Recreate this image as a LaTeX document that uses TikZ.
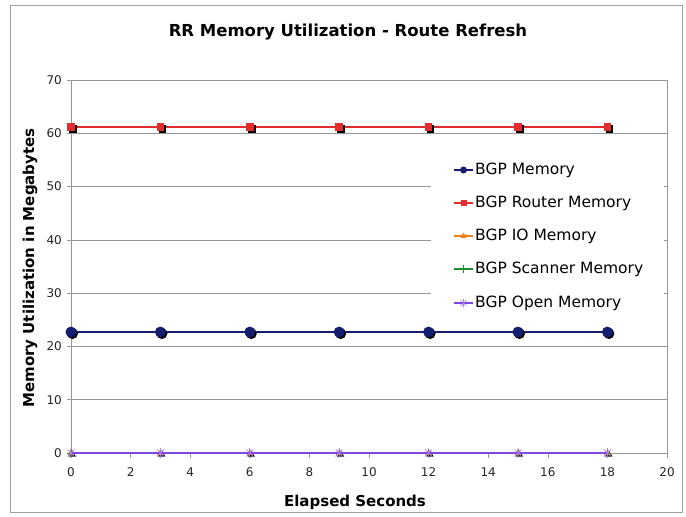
\documentclass[tikz,border=0pt]{standalone}
\usepackage{fontspec}
\setmainfont{DejaVu Sans}
\usetikzlibrary{shapes.geometric}
\definecolor{navy}{RGB}{20,30,110}
\definecolor{rred}{RGB}{225,45,45}
\definecolor{iorange}{RGB}{240,130,30}
\definecolor{sgreen}{RGB}{30,140,40}
\definecolor{opurple}{RGB}{130,70,230}
\definecolor{gridgray}{RGB}{150,150,150}
\definecolor{framegray}{RGB}{160,160,160}
\tikzset{
  ticklabel/.style={font=\fontsize{12}{14}\selectfont, text=black!85},
  legendtext/.style={font=\fontsize{15.5}{17}\selectfont, anchor=west, inner sep=0pt},
  axistitle/.style={font=\bfseries\fontsize{15}{17}\selectfont},
  dotmark/.style={circle, fill=navy, minimum size=11pt, inner sep=0pt},
  dotshadow/.style={circle, fill=black, minimum size=11pt, inner sep=0pt},
  sqmark/.style={rectangle, fill=rred, minimum size=7.5pt, inner sep=0pt},
  sqshadow/.style={rectangle, fill=black, minimum size=7.5pt, inner sep=0pt},
  trimark/.style={regular polygon, regular polygon sides=3, fill=iorange, minimum size=8pt, inner sep=0pt},
  trishadow/.style={regular polygon, regular polygon sides=3, fill=black, minimum size=8pt, inner sep=0pt},
}
% horizontal scale: 29.8 px per second, vertical: 5.33 px per MB
\newcommand{\px}[1]{71+29.8*#1}
\newcommand{\py}[1]{453-5.3286*#1}
\begin{document}
\begin{tikzpicture}[x=1pt,y=-1pt]
  \useasboundingbox (0,0) rectangle (686,517);
  \fill[white] (0,0) rectangle (686,517);
  \draw[framegray, line width=0.8pt] (10,5) rectangle (682,512);

  % title
  \node[font=\bfseries\fontsize{16.5}{19}\selectfont] (title) at (348,32) {RR Memory Utilization - Route Refresh};

  % grid lines
  \foreach \v in {10,20,...,70} {
    \draw[gridgray, line width=0.6pt] (71,{\py{\v}}) -- ({\px{20}},{\py{\v}});
  }
  % plot frame
  \draw[gridgray, line width=0.6pt] (71,{\py{70}}) -- ({\px{20}},{\py{70}}) -- ({\px{20}},453);
  \draw[gridgray, line width=0.8pt] (71,{\py{70}}) -- (71,453) -- ({\px{20}},453);

  % y ticks and labels
  \foreach \v in {0,10,...,70} {
    \draw[gridgray, line width=0.6pt] (67,{\py{\v}}) -- (71,{\py{\v}});
    \node[ticklabel, anchor=east, inner sep=1pt] (ylab\v) at (63,{\py{\v}}) {\v};
  }
  % x ticks and labels
  \foreach \v in {0,2,...,20} {
    \draw[gridgray, line width=0.6pt] ({\px{\v}},453) -- ({\px{\v}},458);
    \node[ticklabel, anchor=center, inner sep=1pt] (xlab\v) at ({\px{\v}},472) {\v};
  }

  % axis titles
  \node[axistitle, rotate=90] (ytitle) at (30,268) {Memory Utilization in Megabytes};
  \node[axistitle] (xtitle) at (355,502) {Elapsed Seconds};

  % BGP Router Memory
  \draw[rred, line width=1.6pt] ({\px{0}},{\py{61.2}}) -- ({\px{18}},{\py{61.2}});
  \foreach \t in {0,3,...,18} {
    \node[sqshadow] at ({\px{\t}+2},{\py{61.2}+2}) {};
    \node[sqmark] at ({\px{\t}},{\py{61.2}}) {};
  }

  % legend background hides the grid behind it
  \fill[white] (431,148) rectangle (664,322);

  % BGP Memory
  \draw[navy, line width=2.6pt] ({\px{0}},{\py{22.7}}) -- ({\px{18}},{\py{22.7}});
  \foreach \t in {0,3,...,18} {
    \node[dotshadow] at ({\px{\t}+1.5},{\py{22.7}+1.5}) {};
    \node[dotmark] at ({\px{\t}},{\py{22.7}}) {};
  }

  % IO, Scanner and Open memory, all at zero
  \draw[iorange, line width=1.4pt] ({\px{0}},453) -- ({\px{18}},453);
  \draw[sgreen, line width=1.2pt] ({\px{0}},453) -- ({\px{18}},453);
  \foreach \t in {0,3,...,18} {
    \node[trishadow] at ({\px{\t}+1.5},{453+1.5}) {};
    \node[trimark] at ({\px{\t}},453) {};
    \draw[sgreen, line width=0.8pt] ({\px{\t}-4},453) -- ({\px{\t}+4},453) ({\px{\t}},449) -- ({\px{\t}},457);
  }
  \draw[opurple, line width=1.4pt] ({\px{0}},453) -- ({\px{18}},453);
  \foreach \t in {0,3,...,18} {
    \draw[opurple!70, line width=0.7pt] ({\px{\t}-3.5},{453-3.5}) -- ({\px{\t}+3.5},{453+3.5})
      ({\px{\t}-3.5},{453+3.5}) -- ({\px{\t}+3.5},{453-3.5})
      ({\px{\t}},448) -- ({\px{\t}},458);
  }

  % legend
  \draw[navy, line width=2.4pt] (454,170) -- (473,170);
  \node[dotmark, minimum size=7pt] at (463.5,170) {};
  \node[legendtext] (leg1) at (475,170) {BGP Memory};

  \draw[rred, line width=1.4pt] (454,203) -- (473,203);
  \node[sqmark, minimum size=6pt] at (463.5,203) {};
  \node[legendtext] (leg2) at (475,203) {BGP Router Memory};

  \draw[iorange, line width=1.4pt] (454,236) -- (473,236);
  \node[trimark, minimum size=7pt] at (463.5,236) {};
  \node[legendtext] (leg3) at (475,236) {BGP IO Memory};

  \draw[sgreen, line width=1.2pt] (454,269) -- (473,269) (463.5,265) -- (463.5,273);
  \node[legendtext] (leg4) at (475,269) {BGP Scanner Memory};

  \draw[opurple, line width=1.4pt] (454,303) -- (473,303);
  \draw[opurple!70, line width=0.7pt] (460.5,300) -- (466.5,306) (460.5,306) -- (466.5,300) (463.5,299) -- (463.5,307);
  \node[legendtext] (leg5) at (475,303) {BGP Open Memory};
\end{tikzpicture}
\end{document}
